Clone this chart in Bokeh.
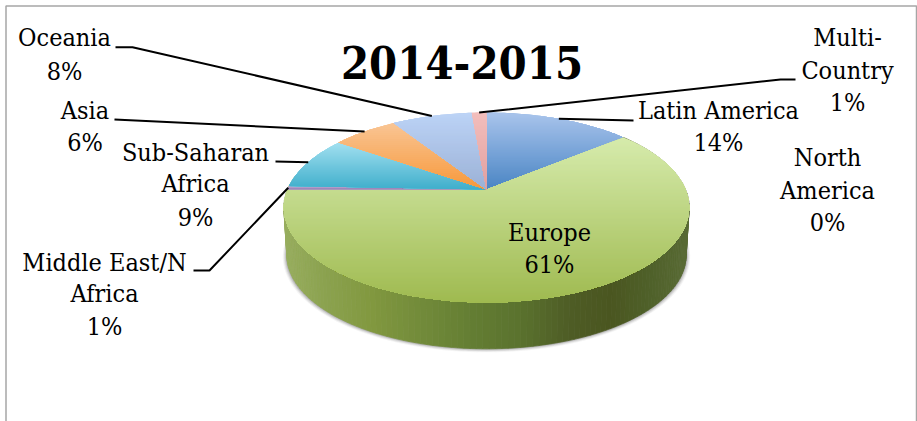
from math import sin, cos, radians
from bokeh.plotting import figure
from bokeh.embed import file_html
from bokeh.resources import INLINE
from bokeh.core.properties import value

# ---- data
categories = ["Latin America", "North America", "Europe", "Middle East/N Africa",
              "Sub-Saharan Africa", "Asia", "Oceania", "Multi-Country"]
shares = [14.0, 0.0, 61.0, 0.6, 9.0, 6.3, 7.7, 1.4]
shown_pct = ["14%", "0%", "61%", "1%", "9%", "6%", "8%", "1%"]
title = "2014-2015"

# ---- styling: slice gradients (top colour, bottom colour)
grad = [("#A9C4EC", "#4A85C4"), ("#A9C4EC", "#4A85C4"), ("#D6EBAC", "#9FBA50"),
        ("#B9A6CE", "#9A83B8"), ("#A2E0F0", "#3FAECB"), ("#F9C594", "#F7983A"),
        ("#BCD3F6", "#9BB1D6"), ("#F3BEBC", "#DF9F9F")]
side_stops = [(283, "#98AE5E"), (320, "#8CA350"), (370, "#81983F"), (420, "#728B3A"),
              (470, "#647E33"), (520, "#5A722E"), (570, "#4E5C25"), (610, "#4A5620"),
              (650, "#4F6029"), (689, "#5A6C36")]

# ---- projection of the tilted disc into page pixels
CX, CY, A, K, C = 486.0, 189.0, 199.0, 91.6, -0.1895
DEPTH, LOW = 48.0, 0.985

def proj(angle, r=1.0, scale=1.0, dy=0.0):
    a = radians(angle)
    u, t = r * sin(a), -r * cos(a)
    w = 1 + C * t
    return CX + scale * A * u / w, CY + dy + scale * K * t / w

def hex2(c):
    return [int(c[i:i + 2], 16) for i in (1, 3, 5)]

def lerp(c0, c1, f):
    f = max(0.0, min(1.0, f))
    a, b = hex2(c0), hex2(c1)
    return "#%02x%02x%02x" % tuple(round(a[i] + (b[i] - a[i]) * f) for i in range(3))

def side_col(x):
    for (x0, c0), (x1, c1) in zip(side_stops, side_stops[1:]):
        if x <= x1:
            return lerp(c0, c1, (x - x0) / (x1 - x0))
    return side_stops[-1][1]

def clip(poly, y, keep_below):
    out = []
    n = len(poly)
    for i in range(n):
        p, q = poly[i], poly[(i + 1) % n]
        pin = p[1] >= y if keep_below else p[1] <= y
        qin = q[1] >= y if keep_below else q[1] <= y
        if pin:
            out.append(p)
        if pin != qin:
            f = (y - p[1]) / (q[1] - p[1])
            out.append((p[0] + (q[0] - p[0]) * f, y))
    return out

p = figure(width=917, height=421, x_range=(0, 917), y_range=(421, 0),
           toolbar_location=None, output_backend="svg", min_border=0,
           margin=(0, 0, 0, 0), outline_line_color=None)
p.axis.visible = False
p.grid.visible = False

# frame
p.line([5.5, 5.5, 916, 916], [421, 5.5, 5.5, 421], line_color="#A6A6A6", line_width=1.5)

# slice angle limits
edges = [0.0]
for s in shares:
    edges.append(edges[-1] + s * 3.6)
mids = [(edges[i] + edges[i + 1]) / 2 for i in range(len(shares))]

# soft shadow under the drum
rim_angles = [a * 1.0 for a in range(60, 301, 2)]
for grow, alpha in [(4.0, 0.06), (3.0, 0.10), (2.0, 0.14), (1.0, 0.20)]:
    xs = [proj(a, 1.0, LOW + grow / 200, DEPTH + grow * 0.3)[0] for a in rim_angles]
    ys = [proj(a, 1.0, LOW + grow / 200, DEPTH + grow * 0.3)[1] for a in rim_angles]
    p.patch(xs, ys, fill_color="#404040", fill_alpha=alpha, line_color=None)

# drum side (Europe is the only slice on the front)
sx, sy, sc = [], [], []
step = 1.5
a = edges[2]
while a < edges[3] + 8:
    b = a + step
    t0, t1 = proj(a), proj(b)
    l0, l1 = proj(a, 1, LOW, DEPTH), proj(b, 1, LOW, DEPTH)
    sx.append([t0[0], t1[0], l1[0], l0[0]])
    sy.append([t0[1], t1[1], l1[1], l0[1]])
    sc.append(side_col((t0[0] + t1[0]) / 2))
    a = b
p.patches(sx, sy, fill_color=sc, line_color=sc, line_width=0.7)

# top face, as overlapping horizontal gradient strips per slice, over a solid underlay
for i, s in enumerate(shares):
    if s <= 0:
        continue
    n = max(2, int((edges[i + 1] - edges[i]) / 1.0))
    poly = [(CX, CY)] + [proj(edges[i] + (edges[i + 1] - edges[i]) * j / n) for j in range(n + 1)]
    ymin, ymax = min(q[1] for q in poly), max(q[1] for q in poly)
    mean = lerp(grad[i][0], grad[i][1], 0.5)
    p.patch([q[0] for q in poly], [q[1] for q in poly], fill_color=mean, line_color=None)
    xs, ys, cs = [], [], []
    y = ymin
    while y < ymax:
        band = clip(poly, y, True)
        if len(band) >= 3:
            xs.append([q[0] for q in band])
            ys.append([q[1] for q in band])
            cs.append(lerp(grad[i][0], grad[i][1], (y + 1 - ymin) / (ymax - ymin)))
        y += 2.0
    p.patches(xs, ys, fill_color=cs, line_color=None)

# leader lines end on the rim at each slice's middle angle
def leader(idx, *elbow):
    e = proj(mids[idx])
    p.line([q[0] for q in elbow] + [e[0]], [q[1] for q in elbow] + [e[1]],
           line_color="#000000", line_width=2)

leader(6, (115, 46.7), (132, 46.7))
leader(5, (114, 119))
leader(4, (275, 161))
leader(3, (193, 270), (209, 270))
leader(7, (795, 79), (780, 79))
leader(0, (633, 120))

# labels
FONT = "DejaVu Serif Condensed"
SIZE = 25.0
def label(x, ys, lines):
    p.text([x] * len(lines), [y - 0.37 * SIZE for y in ys], text=lines, text_font=value(FONT),
           text_font_size=f"{SIZE}px",
           text_align="center", text_baseline="alphabetic", text_color="#000000")

label(64, [46.7, 80], ["Oceania", shown_pct[6]])
label(84.5, [119, 151.7], ["Asia", shown_pct[5]])
label(195, [161, 192.7, 226], ["Sub-Saharan", "Africa", shown_pct[4]])
label(104, [271, 302.7, 335], ["Middle East/N", "Africa", shown_pct[3]])
label(847, [46.7, 79, 111.7], ["Multi-", "Country", shown_pct[7]])
label(718, [119, 151.7], ["Latin America", shown_pct[0]])
label(827, [166.7, 199, 231.7], ["North", "America", shown_pct[1]])
label(549, [241.7, 273], ["Europe", shown_pct[2]])

p.text([461.5], [79 - 0.37 * 45], text=[title], text_font=value(FONT), text_font_size="45px",
       text_font_style="bold", text_align="center", text_baseline="alphabetic", text_color="#000000")

open("out.html", "w").write(file_html(p, INLINE))
